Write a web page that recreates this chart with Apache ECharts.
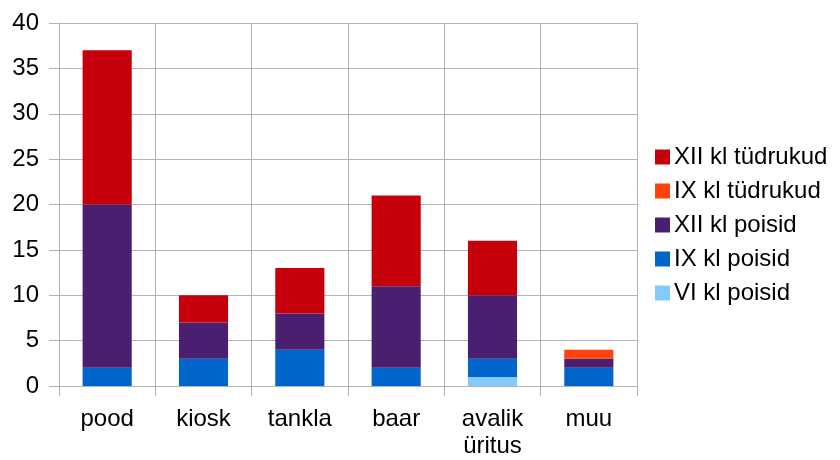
<!DOCTYPE html>
<html>
<head>
<meta charset="utf-8">
<script src="https://cdn.jsdelivr.net/npm/echarts@6/dist/echarts.min.js"></script>
<style>
  html, body { margin: 0; padding: 0; background: #fff; }
  #chart { width: 840px; height: 460px; }
</style>
</head>
<body>
<div id="chart"></div>
<script>
// kategooriad ja andmed (alt üles virnas)
const categories = ['pood', 'kiosk', 'tankla', 'baar', 'avalik\nüritus', 'muu'];
const viPoisid = [0, 0, 0, 0, 1, 0];
const ixPoisid = [2, 3, 4, 2, 2, 2];
const xiiPoisid = [18, 4, 4, 9, 7, 1];
const ixTudrukud = [0, 0, 0, 0, 0, 1];
const xiiTudrukud = [17, 3, 5, 10, 6, 0];
const legendOrder = ['XII kl tüdrukud', 'IX kl tüdrukud', 'XII kl poisid', 'IX kl poisid', 'VI kl poisid'];

const font = 'Liberation Sans, Arial, sans-serif';
const gridColor = '#b3b3b3';

function bar(name, data, color) {
  return {
    name: name,
    type: 'bar',
    stack: 'total',
    barWidth: '51%',
    data: data,
    itemStyle: { color: color },
    emphasis: { disabled: true }
  };
}

const chart = echarts.init(document.getElementById('chart'));
chart.setOption({
  animation: false,
  grid: { left: 59, right: 203, top: 23, bottom: 72 },
  legend: {
    data: legendOrder,
    orient: 'vertical',
    left: 650,
    top: 140,
    itemWidth: 15,
    itemHeight: 15,
    itemGap: 10,
    icon: 'rect',
    textStyle: { fontFamily: font, fontSize: 24, color: '#000', padding: [0, 0, 0, -1] }
  },
  xAxis: {
    type: 'category',
    data: categories,
    axisLine: { lineStyle: { color: gridColor, width: 1 } },
    axisTick: { show: true, length: 10, lineStyle: { color: gridColor } },
    splitLine: { show: true, lineStyle: { color: gridColor } },
    axisLabel: { fontFamily: font, fontSize: 24, color: '#000', margin: 20, lineHeight: 27 }
  },
  yAxis: {
    type: 'value',
    min: 0,
    max: 40,
    interval: 5,
    axisLine: { show: true, lineStyle: { color: gridColor } },
    axisTick: { show: true, length: 10, lineStyle: { color: gridColor } },
    splitLine: { show: true, lineStyle: { color: gridColor } },
    axisLabel: { fontFamily: font, fontSize: 24, color: '#000', margin: 20 }
  },
  series: [
    bar('VI kl poisid', viPoisid, '#83caff'),
    bar('IX kl poisid', ixPoisid, '#0066cc'),
    bar('XII kl poisid', xiiPoisid, '#4b1f6f'),
    bar('IX kl tüdrukud', ixTudrukud, '#ff420e'),
    bar('XII kl tüdrukud', xiiTudrukud, '#c5000b')
  ]
});
</script>
</body>
</html>
